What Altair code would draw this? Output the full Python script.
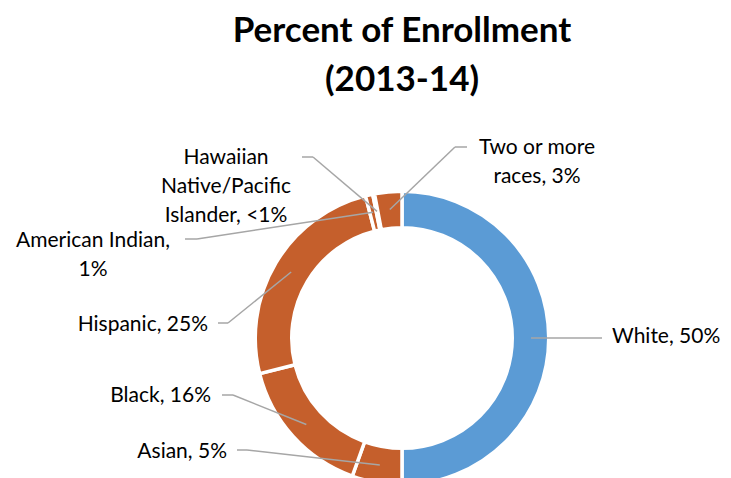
import altair as alt
import pandas as pd

# ---- data ----
categories = ["White", "Asian", "Black", "Hispanic", "American Indian",
              "Hawaiian Native/Pacific Islander", "Two or more races"]
values = [50.0, 5.5, 15.6, 24.9, 0.8, 0.2, 3.0]
label_texts = ["White, 50%", "Asian, 5%", "Black, 16%", "Hispanic, 25%",
               "American Indian,\n1%", "Hawaiian\nNative/Pacific\nIslander, <1%",
               "Two or more\nraces, 3%"]
title_lines = ["Percent of Enrollment", "(2013-14)"]

# ---- style / layout ----
slice_colors = ["#5B9BD5", "#C55F2C", "#C55F2C", "#C55F2C", "#C55F2C", "#C55F2C", "#C55F2C"]
OFF = 8  # page margin
CX, CY = 402 - OFF, 338 - OFF
R_OUT, R_IN, R_LEAD = 145, 112, 129
GAP = 3.5
FONT = "Lato"

# label anchor layout in page pixels: elbow (ex,ey), end of leader (nx,ny), text (tx,ty)
label_layout = {
    "White":                            (602, 338, 602, 338, 612, 337, "left"),
    "Asian":                            (247, 450, 237, 450, 227, 452, "right"),
    "Black":                            (233, 395, 222, 395, 211, 396, "right"),
    "Hispanic":                         (228, 323, 218, 323, 208, 325, "right"),
    "American Indian":                  (197, 239, 185, 239, 93, 241, "center"),
    "Hawaiian Native/Pacific Islander": (313, 157, 302, 157, 226, 158, "center"),
    "Two or more races":                (455, 147, 467, 147, 537, 148, "center"),
}

rows = []
for i, (c, v, t) in enumerate(zip(categories, values, label_texts)):
    ex, ey, nx, ny, tx, ty, al = label_layout[c]
    rows.append(dict(idx=i, category=c, value=v, label=t,
                     ex=ex - OFF, ey=ey - OFF, nx=nx - OFF, ny=ny - OFF,
                     tx=tx - OFF, ty=ty - OFF, align=al))
df = pd.DataFrame(rows)

base = alt.Chart(df)

arcs = base.mark_arc(
    innerRadius=R_IN - GAP / 2, outerRadius=R_OUT + GAP / 2,
    stroke="white", strokeWidth=GAP
).encode(
    theta=alt.Theta("value:Q", stack=True),
    order=alt.Order("idx:Q", sort="ascending"),
    color=alt.Color("category:N", scale=alt.Scale(domain=categories, range=slice_colors), legend=None),
    x=alt.value(CX),
    y=alt.value(CY),
)

lead = base.transform_window(
    cum="sum(value)", sort=[alt.SortField("idx", order="ascending")]
).transform_joinaggregate(
    total="sum(value)"
).transform_calculate(
    mid="(datum.cum - datum.value / 2) / datum.total * 2 * PI"
).transform_calculate(
    px=f"{CX} + {R_LEAD} * sin(datum.mid)",
    py=f"{CY} - {R_LEAD} * cos(datum.mid)",
)

seg1 = lead.mark_rule(color="#A6A6A6", strokeWidth=1.5).encode(
    x=alt.X("px:Q", scale=None), y=alt.Y("py:Q", scale=None),
    x2="ex:Q", y2="ey:Q",
)
seg2 = base.mark_rule(color="#A6A6A6", strokeWidth=1.5).encode(
    x=alt.X("ex:Q", scale=None), y=alt.Y("ey:Q", scale=None),
    x2="nx:Q", y2="ny:Q",
)

def text_layer(al):
    return base.transform_filter(alt.datum.align == al).mark_text(
        align=al, baseline="middle", font=FONT, fontSize=21, color="#000000",
        lineBreak="\n", lineHeight=29,
    ).encode(
        x=alt.X("tx:Q", scale=None), y=alt.Y("ty:Q", scale=None), text="label:N"
    )

title_df = pd.DataFrame({"t": ["\n".join(title_lines)]})
title = alt.Chart(title_df).mark_text(
    align="center", baseline="alphabetic", font=FONT, fontSize=35, fontWeight="bold",
    color="#000000", lineBreak="\n", lineHeight=49,
).encode(x=alt.value(CX), y=alt.value(42 - OFF), text="t:N")

chart = alt.layer(
    arcs, seg1, seg2, text_layer("left"), text_layer("right"), text_layer("center"), title
).properties(
    width=715, height=470, autosize=alt.AutoSizeParams(type="none"), padding=0
).configure_view(stroke=None)

chart.save("out.html", embed_options={"renderer": "svg", "actions": False})
